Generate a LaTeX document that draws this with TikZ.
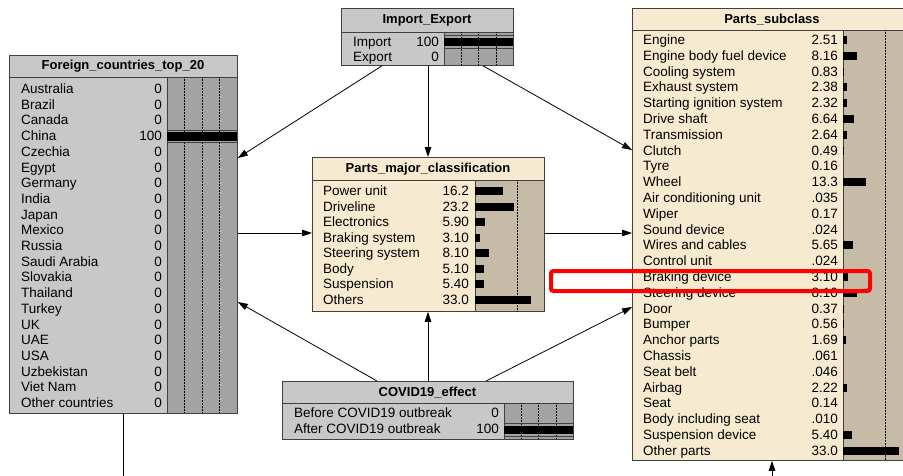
\documentclass[tikz,border=0pt]{standalone}
\usepackage{fontspec}
\setmainfont{Liberation Sans}
\usetikzlibrary{arrows.meta}
\definecolor{gbox}{HTML}{C8C8C8}
\definecolor{gbar}{HTML}{A3A3A3}
\definecolor{bbox}{HTML}{F6EBD1}
\definecolor{bbar}{HTML}{C5BBA7}
\definecolor{edge}{HTML}{404040}
\newcommand\netbox[9]{%
  \fill[#8box] (#2,#3) rectangle (#4,#5);
  \fill[#8bar] (#7,#6) rectangle (#4,#5);
  \draw[edge, line width=0.6pt] (#7,#6) -- (#7,#5);
  \draw[edge, line width=0.8pt] (#2,#6) -- (#4,#6);
  \pgfmathsetmacro\nbw{#4-#2}%
  \pgfmathsetmacro\nbh{#5-#3}%
  \node[draw=edge, line width=0.8pt, inner sep=0pt, minimum width=\nbw pt,
        minimum height=\nbh pt, anchor=north west] (#1) at (#2,#3) {};
  \node[titletext] (#1-title) at ({(#2+#4)/2},{(#3+#6)/2+0.5}) {#9};
}
\begin{document}
\begin{tikzpicture}[x=1pt,y=-1pt,
  font=\fontsize{13.5}{15}\selectfont,
  titletext/.style={inner sep=0pt, font=\fontsize{13}{15}\selectfont\bfseries},
  lbl/.style={anchor=base west, inner sep=0pt},
  val/.style={anchor=base east, inner sep=0pt},
  tick/.style={densely dotted, line width=0.5pt, black},
  fullbar/.style={edge, line width=0.7pt},
  arr/.style={-{Triangle[length=10pt,width=6.5pt]}, line width=0.8pt},
  conn/.style={line width=0.8pt}]
\useasboundingbox (0,0) rectangle (903,475);
\fill[white] (0,0) rectangle (903,475);
\clip (0,0) rectangle (903,475);

% ---------------- Import_Export
\netbox{ie}{341}{8}{513}{65}{32}{444}{g}{Import\_Export}
\foreach \x in {461.25,478.5,495.75} \draw[tick] (\x,32) -- (\x,65);
\fill (444,38) rectangle (513,46);
\draw[fullbar] (444,35.5) -- (513,35.5) (444,48.5) -- (513,48.5);
\node[lbl] (ie-n1) at (353,46.5) {Import};
\node[val] (ie-v1) at (439,46.5) {100};
\node[lbl] (ie-n2) at (353,61.5) {Export};
\node[val] (ie-v2) at (439,61.5) {0};

% ---------------- Foreign_countries_top_20
\netbox{fc}{9}{55}{237}{413}{77}{167}{g}{Foreign\_countries\_top\_20}
\foreach \x in {184.5,202,219.5} \draw[tick] (\x,77) -- (\x,413);
\fill (167,132) rectangle (237,140.5);
\draw[fullbar] (167,130) -- (237,130) (167,142.5) -- (237,142.5);
\foreach \n/\d [count=\i from 0] in {Australia/0,Brazil/0,Canada/0,China/100,Czechia/0,Egypt/0,Germany/0,India/0,Japan/0,Mexico/0,Russia/0,Saudi Arabia/0,Slovakia/0,Thailand/0,Turkey/0,UK/0,UAE/0,USA/0,Uzbekistan/0,Viet Nam/0,Other countries/0}{
  \pgfmathsetmacro\yy{89+\i*15.7+4.5}
  \node[lbl] (fc-n\i) at (21,\yy) {\n};
  \node[val] (fc-v\i) at (162,\yy) {\d};
}

% ---------------- Parts_major_classification
\netbox{pm}{312}{157}{544}{311}{180}{475}{b}{Parts\_major\_classification}
\draw[tick] (517.5,180) -- (517.5,311);
\foreach \n/\d/\v [count=\i from 0] in {Power unit/16.2/16.2,Driveline/23.2/23.2,Electronics/5.90/5.9,Braking system/3.10/3.1,Steering system/8.10/8.1,Body/5.10/5.1,Suspension/5.40/5.4,Others/33.0/33.0}{
  \pgfmathsetmacro\yy{191+\i*15.57}
  \node[lbl] (pm-n\i) at (323,\yy+4.5) {\n};
  \node[val] (pm-v\i) at (469,\yy+4.5) {\d};
  \fill (475,\yy-4) rectangle ({475+\v*1.7},\yy+4);
}

% ---------------- COVID19_effect
\netbox{cv}{282}{381}{573}{439}{403}{504}{g}{COVID19\_effect}
\foreach \x in {521.25,538.5,555.75} \draw[tick] (\x,403) -- (\x,439);
\fill (504,425.5) rectangle (573,433.5);
\draw[fullbar] (504,423) -- (573,423) (504,436) -- (573,436);
\node[lbl] (cv-n1) at (294,417.5) {Before COVID19 outbreak};
\node[val] (cv-v1) at (499,417.5) {0};
\node[lbl] (cv-n2) at (294,433.5) {After COVID19 outbreak};
\node[val] (cv-v2) at (499,433.5) {100};

% ---------------- Parts_subclass
\netbox{ps}{632}{8}{912}{460}{30}{843}{b}{Parts\_subclass}
\draw[tick] (885.5,30) -- (885.5,460);
\foreach \n/\d/\v [count=\i from 0] in {Engine/2.51/2.51,Engine body fuel device/8.16/8.16,Cooling system/0.83/0.83,Exhaust system/2.38/2.38,Starting ignition system/2.32/2.32,Drive shaft/6.64/6.64,Transmission/2.64/2.64,Clutch/0.49/0.49,Tyre/0.16/0.16,Wheel/13.3/13.3,Air conditioning unit/.035/0.035,Wiper/0.17/0.17,Sound device/.024/0.024,Wires and cables/5.65/5.65,Control unit/.024/0.024,Braking device/3.10/3.1,Steering device/8.10/8.1,Door/0.37/0.37,Bumper/0.56/0.56,Anchor parts/1.69/1.69,Chassis/.061/0.061,Seat belt/.046/0.046,Airbag/2.22/2.22,Seat/0.14/0.14,Body including seat/.010/0.01,Suspension device/5.40/5.4,Other parts/33.0/33.0}{
  \pgfmathsetmacro\yy{40+\i*15.8}
  \pgfmathsetmacro\bl{\v*1.7}
  \node[lbl] (ps-n\i) at (643,\yy+4.5) {\n};
  \node[val] (ps-v\i) at (838,\yy+4.5) {\d};
  \ifdim\bl pt>0.3pt
    \fill (843,\yy-4) rectangle ({843+max(1.2,\bl)},\yy+4);
  \fi
}

% ---------------- highlight
\node[draw=red, line width=4pt, rounded corners=2.5pt, inner sep=0pt,
      minimum width=319pt, minimum height=20pt, anchor=north west] (hl) at (549,269) {};

% ---------------- connectors
\coordinate (fcdown) at (123,480);
\coordinate (psup) at (772,480);
\draw[arr] ([xshift=41pt]ie.south west) -- ([yshift=-103pt]fc.north east);
\draw[arr] ([xshift=87pt]ie.south west) -- ([xshift=116pt]pm.north west);
\draw[arr] ([xshift=142pt]ie.south west) -- ([yshift=-142pt]ps.north west);
\draw[arr] ([yshift=-178pt]fc.north east) -- ([yshift=-76pt]pm.north west);
\draw[arr] ([yshift=-76pt]pm.north east) -- ([yshift=-225pt]ps.north west);
\draw[arr] ([xshift=95pt]cv.north west) -- ([yshift=-247pt]fc.north east);
\draw[arr] ([xshift=146pt]cv.north west) -- ([xshift=116pt]pm.south west);
\draw[arr] ([xshift=204pt]cv.north west) -- ([yshift=-299pt]ps.north west);
\draw[conn] ([xshift=114pt]fc.south west) -- (fcdown);
\draw[arr] (psup) -- ([xshift=140pt]ps.south west);
\end{tikzpicture}
\end{document}
